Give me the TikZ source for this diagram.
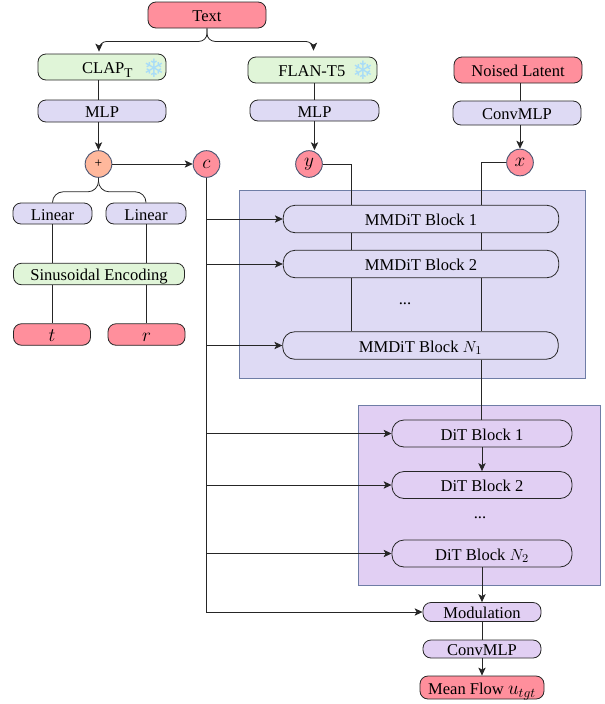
\documentclass[tikz,border=0pt]{standalone}
\usepackage{fontspec}
\setmainfont{Liberation Serif}
\newfontfamily\snowfont{DejaVu Sans}
\usepackage{xcolor}
\usetikzlibrary{calc,positioning,arrows.meta}
\definecolor{inputpink}{HTML}{FF8F9C}
\definecolor{blocklav}{HTML}{DEDAF4}
\definecolor{encgreen}{HTML}{E0F5D8}
\definecolor{sumorange}{HTML}{FFB89C}
\definecolor{ditpurple}{HTML}{E1CFF3}
\definecolor{panelblue}{HTML}{6F7DA6}
\definecolor{snowblue}{HTML}{A8DCF8}
\tikzset{
	wh/.style 2 args={minimum width=#1*0.75pt,minimum height=#2*0.75pt},
	boxed/.style={draw=black!85,line width=0.6pt,rounded corners=6pt,inner sep=0pt,text height=10pt,text depth=0pt,font=\fontsize{12.4}{14}\selectfont},
	inputbox/.style={boxed,fill=inputpink},
	blockbox/.style={boxed,fill=blocklav},
	encbox/.style={boxed,fill=encgreen},
	ditbox/.style={boxed,fill=ditpurple},
	ball/.style={circle,draw=panelblue!70!black,line width=0.7pt,inner sep=0pt,minimum size=20pt,font=\fontsize{14.5}{16}\selectfont},
	panel/.style={draw=panelblue,line width=0.65pt,inner sep=0pt},
	link/.style={black!85,line width=0.6pt},
	arrow/.style={link,-{Stealth[length=6pt,width=5.5pt,inset=1.5pt]}},
	snow/.style={text=snowblue,inner sep=0pt,font=\snowfont\fontsize{19}{19}\selectfont},
	dots/.style={inner sep=0pt,font=\fontsize{12.4}{14}\selectfont},
	mathbig/.style={font=\fontsize{14.5}{16}\selectfont}
}
\begin{document}
\begin{tikzpicture}[x=0.75pt,y=-0.75pt]
	\useasboundingbox (0,0) rectangle (605,704);
	\node[panel,fill=blocklav,wh={346}{188}] (mmpanel) at (412,284) {};
	\node[panel,fill=ditpurple,wh={242}{180}] (ditpanel) at (479,495) {};
	\node[inputbox,wh={118}{26}] (text) at (207,15) {Text};
	\node[encbox,wh={128}{26}] (clap) at (102,67) {\hspace*{8pt}CLAP\raisebox{-3pt}{\fontsize{10}{10}\selectfont T}};
	\node[snow] (clapsnow) at (154,68) {❄};
	\node[blockbox,wh={128}{22}] (clapmlp) at (102,111) {MLP};
	\node[ball,fill=sumorange,font=\fontsize{10}{12}\selectfont] (plus) at (98.5,164) {+};
	\node[ball,fill=inputpink] (c) at (206.5,164) {$c$};
	\node[blockbox,wh={79}{21}] (lineart) at (52.5,213.5) {Linear};
	\node[blockbox,wh={80}{21}] (linearr) at (146,213.5) {Linear};
	\node[encbox,wh={171}{21.5}] (sin) at (99,274) {Sinusoidal Encoding};
	\node[inputbox,mathbig,wh={77}{21.5}] (t) at (52,334.5) {$t$};
	\node[inputbox,mathbig,wh={77}{21.5}] (r) at (146.5,334.5) {$r$};
	\node[encbox,wh={129}{26}] (flan) at (312.5,70) {FLAN-T5\hspace*{1pt}};
	\node[snow] (flansnow) at (363,70) {❄};
	\node[blockbox,wh={129}{21}] (flanmlp) at (314.5,110.5) {MLP};
	\node[ball,fill=inputpink] (y) at (309,164) {$y$};
	\node[inputbox,wh={128}{26}] (noised) at (518,70) {Noised Latent};
	\node[blockbox,wh={128}{24}] (convmlp) at (517,113) {ConvMLP};
	\node[ball,fill=inputpink] (x) at (520,162.5) {$x$};
	\node[blockbox,rounded corners=9pt,wh={275.5}{27.5}] (mm1) at (421,219) {MMDiT Block 1};
	\node[blockbox,rounded corners=9pt,wh={275.5}{27.5}] (mm2) at (421,264) {MMDiT Block 2};
	\node[dots] (mmdots) at (405,304) {...};
	\node[blockbox,rounded corners=9pt,wh={275.5}{27.5}] (mmn) at (420.5,345.5) {MMDiT Block $N_1$};
	\node[ditbox,rounded corners=9pt,wh={180}{27}] (dit1) at (482,433.5) {DiT Block 1};
	\node[ditbox,rounded corners=9pt,wh={180}{27}] (dit2) at (482,485) {DiT Block 2};
	\node[dots] (ditdots) at (480,518) {...};
	\node[ditbox,rounded corners=9pt,wh={180}{27}] (ditn) at (482,553.5) {DiT Block $N_2$};
	\node[ditbox,wh={118}{19}] (mod) at (482,612) {Modulation};
	\node[ditbox,wh={118}{18}] (conv) at (482,649) {ConvMLP};
	\node[inputbox,wh={124}{23}] (mean) at (482,687.5) {Mean Flow {\fontsize{14.5}{16}\selectfont$u_{tgt}$}};
	\draw[arrow,rounded corners=6pt] (text.south) -- ++(0,13) -| ($(clap.north)+(-3,-2)$);
	\draw[arrow,rounded corners=6pt] (text.south) -- ++(0,13) -| ($(flan.north)+(1,-6)$);
	\draw[link] (plus |- clap.south) -- (plus |- clapmlp.north);
	\draw[arrow] (plus |- clapmlp.south) -- (plus.north);
	\draw[arrow] (plus.east) -- (c.west);
	\draw[link,rounded corners=8pt] (plus.south) -- ++(0,14) -| (lineart.north);
	\draw[link,rounded corners=8pt] (plus.south) -- ++(0,14) -| (linearr.north);
	\draw[link] (lineart.south) -- (lineart.south |- sin.north);
	\draw[link] (linearr.south) -- (linearr.south |- sin.north);
	\draw[link] (lineart.south |- sin.south) -- (lineart.south |- t.north);
	\draw[link] (linearr.south |- sin.south) -- (linearr.south |- r.north);
	\draw[link] (flanmlp.north |- flan.south) -- (flanmlp.north);
	\draw[arrow] (flanmlp.south) -- (flanmlp.south |- y.north);
	\draw[link] (x |- noised.south) -- (x |- convmlp.north);
	\draw[arrow] (x |- convmlp.south) -- (x.north);
	\coordinate (ydown) at (351,0);
	\coordinate (xdown) at (481.5,0);
	\draw[link] (y.east) -| (ydown |- mm1.north);
	\draw[link] (ydown |- mm1.south) -- (ydown |- mm2.north);
	\draw[link] (ydown |- mm2.south) -- (ydown |- mmn.north);
	\draw[link] (x.west) -| (xdown |- mm1.north);
	\draw[link] (xdown |- mm1.south) -- (xdown |- mm2.north);
	\draw[link] (xdown |- mm2.south) -- (xdown |- mmn.north);
	\draw[link] (xdown |- mmn.south) -- (xdown |- dit1.north);
	\draw[arrow] (dit1.south) -- (dit2.north);
	\draw[arrow] (ditn.south) -- (mod.north);
	\draw[link] (mod.south) -- (conv.north);
	\draw[arrow] (conv.south) -- (mean.north);
	\draw[arrow] (c.south) |- (mod.west);
	\draw[arrow] (c |- mm1.west) -- (mm1.west);
	\draw[arrow] (c |- mm2.west) -- (mm2.west);
	\draw[arrow] (c |- mmn.west) -- (mmn.west);
	\draw[arrow] (c |- dit1.west) -- (dit1.west);
	\draw[arrow] (c |- dit2.west) -- (dit2.west);
	\draw[arrow] (c |- ditn.west) -- (ditn.west);
\end{tikzpicture}
\end{document}
